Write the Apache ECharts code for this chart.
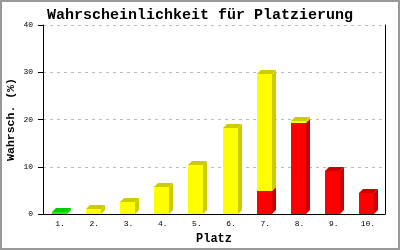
<!DOCTYPE html>
<html>
<head>
<meta charset="utf-8">
<script src="https://cdn.jsdelivr.net/npm/echarts@6/dist/echarts.min.js"></script>
<style>
html,body{margin:0;padding:0;background:#fff;}
#c{width:400px;height:250px;}
</style>
</head>
<body>
<div id="c"></div>
<script>
var categories = ['1.', '2.', '3.', '4.', '5.', '6.', '7.', '8.', '9.', '10.'];
// stacked segments, bottom to top
var redValues    = [0, 0, 0, 0, 0, 0, 4.9, 19.2, 9.2, 4.4];
var yellowValues = [0, 1.1, 2.5, 5.8, 10.3, 18.3, 24.7, 0.4, 0, 0];
var greenValues  = [0.4, 0, 0, 0, 0, 0, 0, 0, 0, 0];
var yTicks = [0, 10, 20, 30, 40];

var stackSeries = [redValues, yellowValues, greenValues];
var fronts = ['#ff0000', '#ffff00', '#22ee22'];
var sides  = ['#cc0000', '#cccc00', '#00cc00'];

var items = [];
for (var i = 0; i < categories.length; i++) {
  var base = 0, lastIdx = -1;
  for (var s = 0; s < stackSeries.length; s++) if (stackSeries[s][i] > 0) lastIdx = s;
  for (var s2 = 0; s2 < stackSeries.length; s2++) {
    var v = stackSeries[s2][i];
    if (v > 0) {
      items.push([i, base, base + v, s2, s2 === lastIdx ? 1 : 0]);
      base += v;
    }
  }
}

function renderItem(params, api) {
  var i = api.value(0);
  var pb = api.coord([i, api.value(1)]);
  var pt = api.coord([i, api.value(2)]);
  var c = api.value(3);
  var isTop = api.value(4);
  var w = 15, d = 4;
  var x0 = Math.round(pb[0] - 8.5), x1 = x0 + w;
  var yb = Math.round(pb[1]), yt = Math.round(pt[1]);
  var children = [
    {type: 'polygon', shape: {points: [[x1, yb], [x1 + d, yb - d], [x1 + d, yt - d], [x1, yt]]},
     style: {fill: sides[c]}},
    {type: 'rect', shape: {x: x0, y: yt, width: w, height: yb - yt}, style: {fill: fronts[c]}}
  ];
  if (isTop) {
    children.push({type: 'polygon', shape: {points: [[x0, yt], [x0 + d, yt - d], [x1 + d, yt - d], [x1, yt]]},
      style: {fill: sides[c]}});
  }
  return {type: 'group', children: children};
}

var chart = echarts.init(document.getElementById('c'), null, {renderer: 'canvas'});
chart.setOption({
  animation: false,
  backgroundColor: '#fff',
  textStyle: {fontFamily: 'Liberation Mono'},
  title: {
    text: 'Wahrscheinlichkeit für Platzierung',
    left: 'center', top: 3,
    textStyle: {fontFamily: 'Liberation Mono', fontWeight: 'bold', fontSize: 15, color: '#000'}
  },
  graphic: [{type: 'rect', shape: {x: 1, y: 1, width: 398, height: 248},
    style: {fill: null, stroke: '#999', lineWidth: 2}, silent: true, z: 100}],
  grid: {left: 43, right: 15, top: 25, bottom: 36, containLabel: false, outerBoundsMode: 'none'},
  xAxis: {
    type: 'category', data: categories,
    name: 'Platz', nameLocation: 'middle', nameGap: 19, nameMoveOverlap: false,
    nameTextStyle: {fontFamily: 'Liberation Mono', fontWeight: 'bold', fontSize: 12, color: '#000'},
    axisLine: {lineStyle: {color: '#000', width: 1}},
    axisTick: {show: false},
    axisLabel: {fontFamily: 'Liberation Mono', fontSize: 8, color: '#000', margin: 6},
    z: 5
  },
  yAxis: [{
    type: 'value', min: 0, max: 40, interval: 10,
    name: 'Wahrsch. (%)', nameLocation: 'middle', nameGap: 26, nameMoveOverlap: false,
    nameTextStyle: {fontFamily: 'Liberation Mono', fontWeight: 'bold', fontSize: 11.5, color: '#000'},
    axisLine: {show: true, lineStyle: {color: '#000', width: 1}},
    axisTick: {show: true, length: 5, lineStyle: {color: '#000'}},
    axisLabel: {fontFamily: 'Liberation Mono', fontSize: 8, color: '#000', margin: 10,
      customValues: yTicks},
    splitLine: {show: true, lineStyle: {color: '#bbb', type: [3, 4]}}
  }, {
    type: 'value', min: 0, max: 40, interval: 10, position: 'right',
    axisLine: {show: true, lineStyle: {color: '#000', width: 1}},
    axisTick: {show: false}, axisLabel: {show: false}, splitLine: {show: false}
  }],
  series: [{
    type: 'custom', renderItem: renderItem, data: items,
    encode: {x: 0, y: [1, 2]}, clip: false
  }]
});
</script>
</body>
</html>
